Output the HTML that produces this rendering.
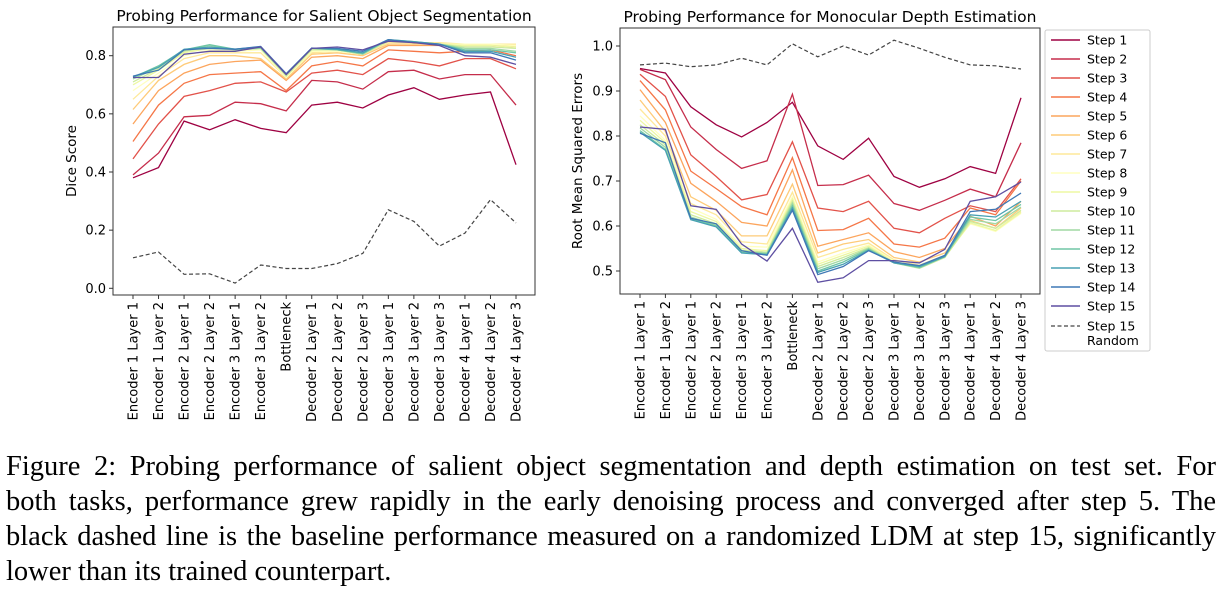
<!DOCTYPE html>
<html><head><meta charset="utf-8">
<style>
body{margin:0;background:#fff;width:1227px;height:596px;overflow:hidden;}
svg text{font-family:"DejaVu Sans","Liberation Sans",sans-serif;fill:#000;}
#caption{position:absolute;left:6px;top:449px;width:1210px;font-family:"Liberation Serif",serif;font-size:28.5px;line-height:35px;color:#000;}
#caption .j{text-align:justify;text-align-last:justify;white-space:nowrap;}
</style></head>
<body>
<svg id="fig" width="1227" height="450" style="position:absolute;left:0;top:0"></svg>
<div id="caption">
<div class="j">Figure 2: Probing performance of salient object segmentation and depth estimation on test set. For</div>
<div class="j">both tasks, performance grew rapidly in the early denoising process and converged after step 5. The</div>
<div class="j">black dashed line is the baseline performance measured on a randomized LDM at step 15, significantly</div>
<div>lower than its trained counterpart.</div>
</div>
<script>
const categories=["Encoder 1 Layer 1","Encoder 1 Layer 2","Encoder 2 Layer 1","Encoder 2 Layer 2","Encoder 3 Layer 1","Encoder 3 Layer 2","Bottleneck","Decoder 2 Layer 1","Decoder 2 Layer 2","Decoder 2 Layer 3","Decoder 3 Layer 1","Decoder 3 Layer 2","Decoder 3 Layer 3","Decoder 4 Layer 1","Decoder 4 Layer 2","Decoder 4 Layer 3"];
const stepNames=["Step 1","Step 2","Step 3","Step 4","Step 5","Step 6","Step 7","Step 8","Step 9","Step 10","Step 11","Step 12","Step 13","Step 14","Step 15"];
const segSteps=[
[0.38,0.415,0.575,0.545,0.58,0.55,0.535,0.63,0.64,0.62,0.665,0.69,0.65,0.665,0.675,0.425],
[0.39,0.465,0.59,0.595,0.64,0.635,0.61,0.715,0.71,0.685,0.745,0.75,0.72,0.735,0.735,0.63],
[0.445,0.565,0.66,0.68,0.705,0.71,0.675,0.74,0.75,0.735,0.79,0.78,0.765,0.79,0.79,0.755],
[0.505,0.63,0.705,0.735,0.74,0.745,0.68,0.765,0.78,0.765,0.82,0.815,0.81,0.815,0.82,0.8],
[0.565,0.68,0.74,0.77,0.78,0.785,0.715,0.795,0.8,0.79,0.835,0.835,0.835,0.835,0.835,0.83],
[0.615,0.715,0.77,0.8,0.8,0.79,0.72,0.805,0.81,0.8,0.84,0.84,0.84,0.835,0.84,0.835],
[0.65,0.73,0.79,0.81,0.81,0.81,0.725,0.81,0.815,0.805,0.845,0.845,0.845,0.84,0.84,0.84],
[0.68,0.74,0.8,0.82,0.815,0.82,0.725,0.815,0.815,0.805,0.85,0.845,0.84,0.84,0.84,0.835],
[0.70,0.75,0.81,0.825,0.82,0.825,0.73,0.82,0.82,0.805,0.85,0.845,0.84,0.835,0.835,0.83],
[0.71,0.755,0.815,0.83,0.82,0.825,0.73,0.82,0.82,0.805,0.85,0.845,0.84,0.83,0.83,0.825],
[0.72,0.76,0.82,0.835,0.82,0.825,0.735,0.825,0.82,0.805,0.855,0.845,0.84,0.825,0.825,0.815],
[0.725,0.765,0.82,0.838,0.822,0.828,0.735,0.825,0.82,0.808,0.855,0.848,0.84,0.82,0.82,0.81],
[0.728,0.76,0.822,0.83,0.823,0.83,0.737,0.826,0.822,0.81,0.855,0.848,0.84,0.815,0.815,0.795],
[0.73,0.75,0.82,0.825,0.822,0.832,0.738,0.826,0.825,0.815,0.855,0.845,0.84,0.81,0.81,0.785],
[0.725,0.725,0.805,0.815,0.815,0.83,0.735,0.825,0.83,0.82,0.85,0.845,0.835,0.8,0.795,0.77]];
const segRandom=[0.105,0.125,0.048,0.05,0.018,0.08,0.068,0.068,0.085,0.12,0.27,0.23,0.145,0.19,0.305,0.225];
const depthSteps=[
[0.95,0.94,0.865,0.825,0.798,0.83,0.875,0.778,0.748,0.795,0.71,0.686,0.705,0.732,0.717,0.885],
[0.948,0.925,0.82,0.77,0.728,0.745,0.893,0.69,0.692,0.713,0.65,0.635,0.657,0.682,0.665,0.785],
[0.937,0.888,0.758,0.71,0.658,0.67,0.787,0.64,0.632,0.655,0.595,0.585,0.617,0.645,0.632,0.705],
[0.923,0.858,0.722,0.683,0.643,0.625,0.752,0.59,0.592,0.617,0.56,0.553,0.573,0.64,0.625,0.7],
[0.903,0.83,0.695,0.655,0.608,0.6,0.725,0.555,0.57,0.585,0.543,0.53,0.55,0.622,0.6,0.655],
[0.88,0.81,0.665,0.635,0.578,0.578,0.693,0.54,0.56,0.57,0.53,0.52,0.54,0.612,0.595,0.64],
[0.86,0.80,0.65,0.625,0.565,0.56,0.675,0.53,0.548,0.562,0.525,0.513,0.535,0.605,0.59,0.632],
[0.845,0.79,0.64,0.615,0.555,0.553,0.665,0.52,0.54,0.558,0.522,0.51,0.533,0.605,0.588,0.628],
[0.835,0.785,0.632,0.61,0.55,0.545,0.66,0.515,0.535,0.555,0.52,0.508,0.53,0.607,0.59,0.63],
[0.825,0.78,0.625,0.605,0.546,0.542,0.655,0.51,0.53,0.552,0.518,0.506,0.53,0.61,0.595,0.635],
[0.818,0.775,0.62,0.602,0.543,0.54,0.65,0.505,0.525,0.55,0.518,0.507,0.532,0.615,0.605,0.642],
[0.812,0.77,0.616,0.6,0.541,0.538,0.645,0.5,0.52,0.548,0.518,0.508,0.532,0.62,0.612,0.648],
[0.808,0.768,0.614,0.598,0.54,0.536,0.64,0.497,0.515,0.546,0.518,0.51,0.532,0.625,0.62,0.655],
[0.806,0.785,0.617,0.605,0.545,0.535,0.635,0.492,0.51,0.545,0.52,0.512,0.535,0.632,0.637,0.673],
[0.82,0.815,0.645,0.637,0.56,0.522,0.595,0.475,0.485,0.523,0.523,0.518,0.548,0.655,0.665,0.698]];
const depthRandom=[0.958,0.962,0.954,0.958,0.973,0.958,1.005,0.976,1.0,0.98,1.013,0.995,0.975,0.958,0.956,0.949];
const segTicks=[0.0,0.2,0.4,0.6,0.8];
const depthTicks=[0.5,0.6,0.7,0.8,0.9,1.0];

const NS="http://www.w3.org/2000/svg";
const svg=document.getElementById('fig');
const spectral=["#9e0142","#d53e4f","#f46d43","#fdae61","#fee08b","#ffffbf","#e6f598","#abdda4","#66c2a5","#3288bd","#5e4fa2"];
function hex(c){return [1,3,5].map(i=>parseInt(c.substr(i,2),16));}
function cmap(t){const p=t*10,i=Math.min(9,Math.floor(p)),f=p-i;const a=hex(spectral[i]),b=hex(spectral[i+1]);return 'rgb('+a.map((v,k)=>Math.round(v+(b[k]-v)*f)).join(',')+')';}
function el(tag,attrs,parent){const e=document.createElementNS(NS,tag);for(const k in attrs)e.setAttribute(k,attrs[k]);(parent||svg).appendChild(e);return e;}

function chart(cfg){
  const g=el('g',{});
  
  
  const n=categories.length;
  const xs=i=>cfg.x0+(cfg.x1-cfg.x0)*i/(n-1);
  const ys=v=>cfg.yA+(v-cfg.vA)*(cfg.yB-cfg.yA)/(cfg.vB-cfg.vA);
  const frame=el('rect',{x:cfg.L,y:cfg.T,width:cfg.R-cfg.L,height:cfg.B-cfg.T,fill:'none',stroke:'#333','stroke-width':1},g);
  
  
  const title=el('text',{x:(cfg.L+cfg.R)/2,y:cfg.T-6,'text-anchor':'middle','font-size':'15.5'},g);
  title.textContent=cfg.title;
  
  
  cfg.ticks.forEach(v=>{
    const y=ys(v);
    el('line',{x1:cfg.L-4,x2:cfg.L,y1:y,y2:y,stroke:'#333'},g);
    const t=el('text',{x:cfg.L-7,y:y+4.5,'text-anchor':'end','font-size':'13'},g);
    t.textContent=v.toFixed(1);
    
    
  });
  const yl=el('text',{transform:`translate(${cfg.L-cfg.ylOff},${(cfg.T+cfg.B)/2}) rotate(-90)`,'text-anchor':'middle','font-size':'13.5'},g);
  yl.textContent=cfg.ylabel;
  
  
  categories.forEach((c,i)=>{
    const x=xs(i);
    el('line',{x1:x,x2:x,y1:cfg.B,y2:cfg.B+4,stroke:'#333'},g);
    const t=el('text',{transform:`translate(${x+4.5},${cfg.B+7}) rotate(-90)`,'text-anchor':'end','font-size':'13'},g);
    t.textContent=c;
    
    
  });
  const pts=a=>a.map((v,i)=>xs(i).toFixed(1)+','+ys(v).toFixed(1)).join(' ');
  const r=el('polyline',{points:pts(cfg.random),fill:'none',stroke:'#444','stroke-width':1.2,'stroke-dasharray':'4,2.5'},g);
  
  
  cfg.steps.forEach((s,k)=>{
    const p=el('polyline',{points:pts(s),fill:'none',stroke:cmap(k/14),'stroke-width':1.3},g);
    
    
  });
}
chart({name:'segmentation-chart',title:'Probing Performance for Salient Object Segmentation',ylabel:'Dice Score',L:113,R:535,T:27,B:295,x0:133,x1:516,yA:288.3,vA:0,yB:55.7,vB:0.8,ticks:segTicks,steps:segSteps,random:segRandom,ylOff:37});
chart({name:'depth-chart',title:'Probing Performance for Monocular Depth Estimation',ylabel:'Root Mean Squared Errors',L:620,R:1040,T:28,B:294,x0:640,x1:1021,yA:271,vA:0.5,yB:46,vB:1.0,ticks:depthTicks,steps:depthSteps,random:depthRandom,ylOff:38});

const lg=el('g',{});


el('rect',{x:1045,y:30,width:105,height:321,fill:'#fff',stroke:'#ccc',rx:2},lg);
stepNames.forEach((s,k)=>{
  const y=40+k*19;
  const ln=el('line',{x1:1051,x2:1080,y1:y,y2:y,stroke:cmap(k/14),'stroke-width':1.5},lg);
  
  
  const t=el('text',{x:1087,y:y+4.5,'font-size':'12.5'},lg);
  t.textContent=s;
  
  
});
el('line',{x1:1051,x2:1080,y1:326,y2:326,stroke:'#444','stroke-width':1.2,'stroke-dasharray':'4,2.5'},lg);
const r1=el('text',{x:1087,y:330.5,'font-size':'12.5'},lg);r1.textContent='Step 15';


const r2=el('text',{x:1087,y:345,'font-size':'12.5'},lg);r2.textContent='Random';


</script>
</body></html>
